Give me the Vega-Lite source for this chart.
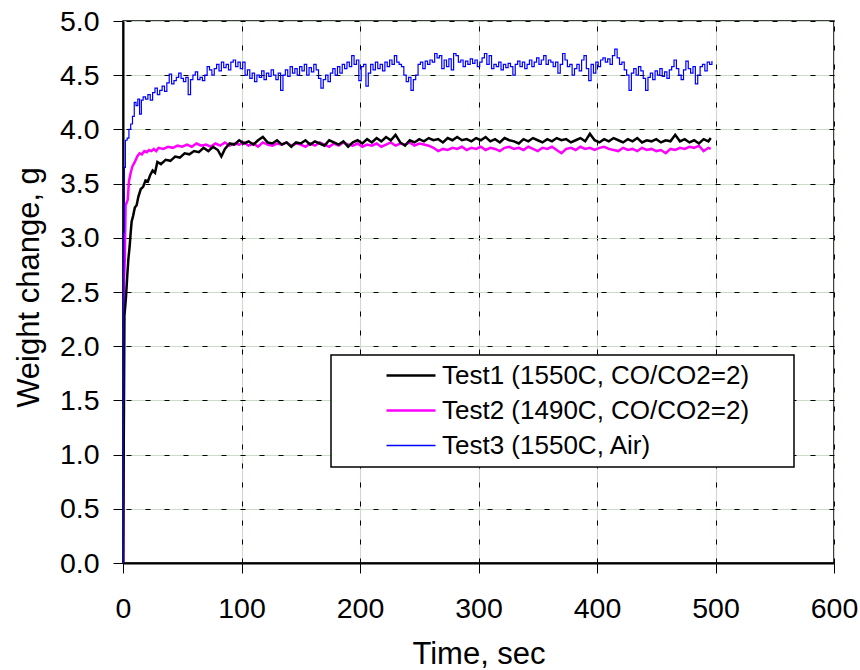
{
"$schema": "https://vega.github.io/schema/vega-lite/v6.json",
"width": 711, "height": 542,
"autosize": {"type": "none"},
"padding": {"left": 123, "top": 21, "right": 26, "bottom": 107},
"background": "white",
"config": {"view": {"stroke": "#000", "strokeWidth": 1.5}, "font": "Liberation Sans"},
"datasets": {
"test1": [
{"t":0,"w":0},{"t":0.8,"w":1.43},{"t":1.2,"w":2.28},{"t":2.5,"w":2.45},{"t":3.7,"w":2.67},{"t":4.5,"w":2.8},{"t":5.6,"w":2.92},{"t":6.5,"w":3.05},{"t":7.3,"w":3.15},{"t":8.5,"w":3.2},{"t":10,"w":3.28},{"t":11.5,"w":3.3},{"t":13,"w":3.38},{"t":15,"w":3.45},{"t":17,"w":3.47},{"t":19,"w":3.53},{"t":21,"w":3.52},{"t":23,"w":3.58},{"t":25,"w":3.62},{"t":27,"w":3.6},{"t":29,"w":3.7},{"t":32,"w":3.68},{"t":36,"w":3.72},{"t":40,"w":3.71},{"t":44,"w":3.75},{"t":48,"w":3.74},{"t":52,"w":3.78},{"t":56,"w":3.77},{"t":60,"w":3.8},{"t":64,"w":3.79},{"t":68,"w":3.83},{"t":72,"w":3.8},{"t":76,"w":3.84},{"t":80,"w":3.81},{"t":83,"w":3.75},{"t":86,"w":3.82},{"t":90,"w":3.87},{"t":94,"w":3.86},{"t":98,"w":3.9},{"t":102,"w":3.87},{"t":106,"w":3.89},{"t":110,"w":3.86},{"t":114,"w":3.9},{"t":118,"w":3.93},{"t":122,"w":3.88},{"t":126,"w":3.87},{"t":130,"w":3.9},{"t":134,"w":3.86},{"t":138,"w":3.88},{"t":142,"w":3.84},{"t":146,"w":3.88},{"t":150,"w":3.87},{"t":154,"w":3.9},{"t":158,"w":3.86},{"t":162,"w":3.89},{"t":166,"w":3.87},{"t":170,"w":3.85},{"t":174,"w":3.9},{"t":178,"w":3.88},{"t":182,"w":3.86},{"t":186,"w":3.89},{"t":190,"w":3.84},{"t":194,"w":3.88},{"t":198,"w":3.9},{"t":202,"w":3.87},{"t":206,"w":3.91},{"t":210,"w":3.88},{"t":214,"w":3.92},{"t":218,"w":3.89},{"t":222,"w":3.93},{"t":226,"w":3.9},{"t":230,"w":3.95},{"t":234,"w":3.88},{"t":238,"w":3.85},{"t":242,"w":3.9},{"t":246,"w":3.88},{"t":250,"w":3.91},{"t":254,"w":3.89},{"t":258,"w":3.92},{"t":262,"w":3.9},{"t":266,"w":3.91},{"t":270,"w":3.88},{"t":274,"w":3.92},{"t":278,"w":3.9},{"t":282,"w":3.93},{"t":286,"w":3.9},{"t":290,"w":3.91},{"t":294,"w":3.89},{"t":298,"w":3.92},{"t":302,"w":3.9},{"t":306,"w":3.93},{"t":310,"w":3.89},{"t":314,"w":3.91},{"t":318,"w":3.88},{"t":322,"w":3.92},{"t":326,"w":3.9},{"t":330,"w":3.89},{"t":334,"w":3.87},{"t":338,"w":3.91},{"t":342,"w":3.89},{"t":346,"w":3.92},{"t":350,"w":3.9},{"t":354,"w":3.88},{"t":358,"w":3.91},{"t":362,"w":3.89},{"t":366,"w":3.92},{"t":370,"w":3.9},{"t":374,"w":3.91},{"t":378,"w":3.88},{"t":382,"w":3.9},{"t":386,"w":3.92},{"t":390,"w":3.89},{"t":394,"w":3.96},{"t":398,"w":3.9},{"t":402,"w":3.88},{"t":406,"w":3.91},{"t":410,"w":3.89},{"t":414,"w":3.92},{"t":418,"w":3.9},{"t":422,"w":3.88},{"t":426,"w":3.91},{"t":430,"w":3.89},{"t":434,"w":3.92},{"t":438,"w":3.88},{"t":442,"w":3.9},{"t":446,"w":3.89},{"t":450,"w":3.91},{"t":454,"w":3.88},{"t":458,"w":3.9},{"t":462,"w":3.89},{"t":466,"w":3.95},{"t":470,"w":3.89},{"t":474,"w":3.91},{"t":478,"w":3.88},{"t":482,"w":3.9},{"t":486,"w":3.87},{"t":490,"w":3.91},{"t":494,"w":3.89},{"t":496,"w":3.92}
],
"test2": [
{"t":0,"w":0},{"t":0.4,"w":1.5},{"t":0.8,"w":2.6},{"t":1.5,"w":2.79},{"t":2.2,"w":3.3},{"t":3,"w":3.32},{"t":4,"w":3.35},{"t":5,"w":3.52},{"t":6.5,"w":3.6},{"t":8,"w":3.66},{"t":10,"w":3.7},{"t":12,"w":3.75},{"t":14,"w":3.78},{"t":16,"w":3.77},{"t":18,"w":3.8},{"t":20,"w":3.79},{"t":22,"w":3.81},{"t":24,"w":3.8},{"t":26,"w":3.82},{"t":28,"w":3.8},{"t":30,"w":3.83},{"t":34,"w":3.82},{"t":38,"w":3.84},{"t":42,"w":3.83},{"t":46,"w":3.85},{"t":50,"w":3.84},{"t":54,"w":3.86},{"t":58,"w":3.84},{"t":62,"w":3.87},{"t":66,"w":3.85},{"t":70,"w":3.86},{"t":74,"w":3.84},{"t":78,"w":3.87},{"t":82,"w":3.85},{"t":86,"w":3.88},{"t":90,"w":3.85},{"t":94,"w":3.87},{"t":98,"w":3.86},{"t":102,"w":3.88},{"t":106,"w":3.85},{"t":110,"w":3.87},{"t":114,"w":3.84},{"t":118,"w":3.88},{"t":122,"w":3.86},{"t":126,"w":3.85},{"t":130,"w":3.87},{"t":134,"w":3.86},{"t":138,"w":3.88},{"t":142,"w":3.85},{"t":146,"w":3.87},{"t":150,"w":3.86},{"t":154,"w":3.84},{"t":158,"w":3.87},{"t":162,"w":3.85},{"t":166,"w":3.88},{"t":170,"w":3.86},{"t":174,"w":3.84},{"t":178,"w":3.87},{"t":182,"w":3.85},{"t":186,"w":3.88},{"t":190,"w":3.86},{"t":194,"w":3.85},{"t":198,"w":3.87},{"t":202,"w":3.84},{"t":206,"w":3.86},{"t":210,"w":3.85},{"t":214,"w":3.87},{"t":218,"w":3.84},{"t":222,"w":3.86},{"t":226,"w":3.88},{"t":230,"w":3.85},{"t":234,"w":3.87},{"t":238,"w":3.86},{"t":242,"w":3.88},{"t":246,"w":3.85},{"t":250,"w":3.87},{"t":254,"w":3.86},{"t":258,"w":3.85},{"t":262,"w":3.83},{"t":266,"w":3.8},{"t":270,"w":3.82},{"t":274,"w":3.81},{"t":278,"w":3.83},{"t":282,"w":3.82},{"t":286,"w":3.84},{"t":290,"w":3.81},{"t":294,"w":3.83},{"t":298,"w":3.82},{"t":302,"w":3.84},{"t":306,"w":3.81},{"t":310,"w":3.83},{"t":314,"w":3.82},{"t":318,"w":3.8},{"t":322,"w":3.83},{"t":326,"w":3.84},{"t":330,"w":3.82},{"t":334,"w":3.83},{"t":338,"w":3.81},{"t":342,"w":3.84},{"t":346,"w":3.82},{"t":350,"w":3.8},{"t":354,"w":3.83},{"t":358,"w":3.82},{"t":362,"w":3.84},{"t":366,"w":3.81},{"t":370,"w":3.78},{"t":374,"w":3.82},{"t":378,"w":3.83},{"t":382,"w":3.81},{"t":386,"w":3.84},{"t":390,"w":3.82},{"t":394,"w":3.83},{"t":398,"w":3.81},{"t":402,"w":3.83},{"t":406,"w":3.84},{"t":410,"w":3.82},{"t":414,"w":3.81},{"t":418,"w":3.8},{"t":422,"w":3.83},{"t":426,"w":3.81},{"t":430,"w":3.82},{"t":434,"w":3.8},{"t":438,"w":3.83},{"t":442,"w":3.81},{"t":446,"w":3.82},{"t":450,"w":3.8},{"t":454,"w":3.81},{"t":458,"w":3.78},{"t":462,"w":3.82},{"t":466,"w":3.81},{"t":470,"w":3.83},{"t":474,"w":3.82},{"t":478,"w":3.84},{"t":482,"w":3.83},{"t":486,"w":3.85},{"t":490,"w":3.8},{"t":494,"w":3.83},{"t":496,"w":3.82}
],
"test3": [
{"t":0,"w":0},{"t":0.3,"w":1.5},{"t":0.7,"w":3.05},{"t":1.2,"w":3.65},{"t":2,"w":3.9},{"t":3.5,"w":3.92},{"t":5,"w":4.0},{"t":6.5,"w":4.05},{"t":8,"w":4.12},{"t":9.5,"w":4.25},{"t":11,"w":4.22},{"t":12.5,"w":4.28},{"t":14,"w":4.14},{"t":15.5,"w":4.27},{"t":17,"w":4.3},{"t":19,"w":4.28},{"t":21,"w":4.32},{"t":23,"w":4.27},{"t":25,"w":4.34},{"t":27,"w":4.38},{"t":29,"w":4.32},{"t":31,"w":4.36},{"t":33,"w":4.4},{"t":35,"w":4.35},{"t":37,"w":4.43},{"t":39,"w":4.51},{"t":41,"w":4.42},{"t":43,"w":4.45},{"t":45,"w":4.48},{"t":47,"w":4.52},{"t":49,"w":4.47},{"t":51,"w":4.44},{"t":53,"w":4.48},{"t":55,"w":4.32},{"t":57,"w":4.46},{"t":59,"w":4.5},{"t":61,"w":4.53},{"t":63,"w":4.46},{"t":65,"w":4.48},{"t":67,"w":4.45},{"t":69,"w":4.5},{"t":71,"w":4.58},{"t":73,"w":4.55},{"t":75,"w":4.5},{"t":77,"w":4.56},{"t":79,"w":4.6},{"t":81,"w":4.54},{"t":83,"w":4.62},{"t":85,"w":4.57},{"t":87,"w":4.6},{"t":89,"w":4.55},{"t":91,"w":4.62},{"t":93,"w":4.64},{"t":95,"w":4.58},{"t":97,"w":4.62},{"t":99,"w":4.56},{"t":101,"w":4.62},{"t":103,"w":4.5},{"t":105,"w":4.55},{"t":107,"w":4.47},{"t":109,"w":4.52},{"t":111,"w":4.44},{"t":113,"w":4.5},{"t":115,"w":4.48},{"t":117,"w":4.54},{"t":119,"w":4.46},{"t":121,"w":4.52},{"t":123,"w":4.49},{"t":125,"w":4.55},{"t":127,"w":4.5},{"t":129,"w":4.46},{"t":131,"w":4.52},{"t":133,"w":4.36},{"t":135,"w":4.5},{"t":137,"w":4.55},{"t":139,"w":4.49},{"t":141,"w":4.58},{"t":143,"w":4.52},{"t":145,"w":4.56},{"t":147,"w":4.5},{"t":149,"w":4.58},{"t":151,"w":4.54},{"t":153,"w":4.6},{"t":155,"w":4.5},{"t":157,"w":4.57},{"t":159,"w":4.53},{"t":161,"w":4.6},{"t":163,"w":4.55},{"t":165,"w":4.47},{"t":167,"w":4.38},{"t":169,"w":4.46},{"t":171,"w":4.5},{"t":173,"w":4.44},{"t":175,"w":4.52},{"t":177,"w":4.56},{"t":179,"w":4.5},{"t":181,"w":4.58},{"t":183,"w":4.52},{"t":185,"w":4.6},{"t":187,"w":4.56},{"t":189,"w":4.62},{"t":191,"w":4.58},{"t":193,"w":4.68},{"t":195,"w":4.6},{"t":197,"w":4.64},{"t":199,"w":4.45},{"t":201,"w":4.58},{"t":203,"w":4.6},{"t":205,"w":4.4},{"t":207,"w":4.52},{"t":209,"w":4.6},{"t":211,"w":4.55},{"t":213,"w":4.62},{"t":215,"w":4.56},{"t":217,"w":4.6},{"t":219,"w":4.54},{"t":221,"w":4.62},{"t":223,"w":4.58},{"t":225,"w":4.64},{"t":227,"w":4.6},{"t":229,"w":4.68},{"t":231,"w":4.62},{"t":233,"w":4.6},{"t":235,"w":4.58},{"t":237,"w":4.5},{"t":239,"w":4.44},{"t":241,"w":4.48},{"t":243,"w":4.36},{"t":245,"w":4.46},{"t":247,"w":4.5},{"t":249,"w":4.6},{"t":251,"w":4.62},{"t":253,"w":4.56},{"t":255,"w":4.63},{"t":257,"w":4.6},{"t":259,"w":4.64},{"t":261,"w":4.62},{"t":263,"w":4.7},{"t":265,"w":4.66},{"t":267,"w":4.68},{"t":269,"w":4.56},{"t":271,"w":4.64},{"t":273,"w":4.58},{"t":275,"w":4.65},{"t":277,"w":4.55},{"t":279,"w":4.7},{"t":281,"w":4.68},{"t":283,"w":4.62},{"t":285,"w":4.64},{"t":287,"w":4.58},{"t":289,"w":4.63},{"t":291,"w":4.6},{"t":293,"w":4.65},{"t":295,"w":4.61},{"t":297,"w":4.64},{"t":299,"w":4.58},{"t":301,"w":4.62},{"t":303,"w":4.66},{"t":305,"w":4.7},{"t":307,"w":4.6},{"t":309,"w":4.68},{"t":311,"w":4.56},{"t":313,"w":4.6},{"t":315,"w":4.58},{"t":317,"w":4.62},{"t":319,"w":4.55},{"t":321,"w":4.6},{"t":323,"w":4.57},{"t":325,"w":4.61},{"t":327,"w":4.58},{"t":329,"w":4.5},{"t":331,"w":4.6},{"t":333,"w":4.63},{"t":335,"w":4.58},{"t":337,"w":4.62},{"t":339,"w":4.56},{"t":341,"w":4.6},{"t":343,"w":4.64},{"t":345,"w":4.58},{"t":347,"w":4.62},{"t":349,"w":4.66},{"t":351,"w":4.6},{"t":353,"w":4.64},{"t":355,"w":4.68},{"t":357,"w":4.6},{"t":359,"w":4.64},{"t":361,"w":4.62},{"t":363,"w":4.58},{"t":365,"w":4.62},{"t":367,"w":4.52},{"t":369,"w":4.6},{"t":371,"w":4.7},{"t":373,"w":4.64},{"t":375,"w":4.58},{"t":377,"w":4.6},{"t":379,"w":4.5},{"t":381,"w":4.56},{"t":383,"w":4.6},{"t":385,"w":4.54},{"t":387,"w":4.64},{"t":389,"w":4.68},{"t":391,"w":4.56},{"t":393,"w":4.45},{"t":395,"w":4.6},{"t":397,"w":4.52},{"t":399,"w":4.62},{"t":401,"w":4.58},{"t":403,"w":4.64},{"t":405,"w":4.66},{"t":407,"w":4.62},{"t":409,"w":4.65},{"t":411,"w":4.6},{"t":413,"w":4.68},{"t":415,"w":4.74},{"t":417,"w":4.66},{"t":419,"w":4.6},{"t":421,"w":4.62},{"t":423,"w":4.55},{"t":425,"w":4.5},{"t":427,"w":4.36},{"t":429,"w":4.52},{"t":431,"w":4.56},{"t":433,"w":4.5},{"t":435,"w":4.58},{"t":437,"w":4.54},{"t":439,"w":4.47},{"t":441,"w":4.36},{"t":443,"w":4.48},{"t":445,"w":4.52},{"t":447,"w":4.46},{"t":449,"w":4.54},{"t":451,"w":4.5},{"t":453,"w":4.56},{"t":455,"w":4.49},{"t":457,"w":4.53},{"t":459,"w":4.47},{"t":461,"w":4.55},{"t":463,"w":4.58},{"t":465,"w":4.64},{"t":467,"w":4.56},{"t":469,"w":4.5},{"t":471,"w":4.46},{"t":473,"w":4.55},{"t":475,"w":4.63},{"t":477,"w":4.56},{"t":479,"w":4.52},{"t":481,"w":4.58},{"t":483,"w":4.42},{"t":485,"w":4.5},{"t":487,"w":4.58},{"t":489,"w":4.6},{"t":491,"w":4.54},{"t":493,"w":4.62},{"t":495,"w":4.6},{"t":497,"w":4.63}
]
},
"layer": [
{
"data": {"name": "test2"},
"mark": {"type": "line", "strokeWidth": 2.5, "clip": true},
"encoding": {
"x": {"field": "t", "type": "quantitative", "scale": {"domain": [0, 600], "nice": false},
"axis": {"orient": "bottom", "values": [0,100,200,300,400,500,600], "grid": true, "gridColor": "#c8dcc8", "gridWidth": 1, "domainColor": "#000000", "domainWidth": 2, "tickColor": "#000000", "tickSize": 10, "tickWidth": 1, "labelFont": "Liberation Sans", "labelFontSize": 28.5, "labelColor": "#000000", "labelPadding": 21, "labelFlush": false, "labelOverlap": false, "title": "Time, sec", "titleFont": "Liberation Sans", "titleFontSize": 31, "titleFontWeight": "normal", "titleColor": "#000000", "titleBaseline": "alphabetic", "titleY": 100}},
"y": {"field": "w", "type": "quantitative", "scale": {"domain": [0, 5], "nice": false},
"axis": {"orient": "left", "values": [0,0.5,1,1.5,2,2.5,3,3.5,4,4.5,5], "format": ".1f", "grid": true, "gridColor": "#c8dcc8", "gridWidth": 1, "domainColor": "#000000", "domainWidth": 2, "tickColor": "#000000", "tickSize": 10, "tickWidth": 1, "labelFont": "Liberation Sans", "labelFontSize": 28.5, "labelColor": "#000000", "labelPadding": 14, "labelFlush": false, "labelOverlap": false, "title": "Weight change, g", "titleFont": "Liberation Sans", "titleFontSize": 31, "titleFontWeight": "normal", "titleColor": "#000000", "titleAngle": 270, "titleAlign": "center", "titleBaseline": "alphabetic", "titleX": -85, "titleY": 266}},
"color": {"datum": "Test2 (1490C, CO/CO2=2)", "type": "nominal"}
}
},
{
"data": {"name": "test1"},
"mark": {"type": "line", "strokeWidth": 2.5, "clip": true},
"encoding": {
"x": {"field": "t", "type": "quantitative", "scale": {"domain": [0, 600], "nice": false}, "axis": null},
"y": {"field": "w", "type": "quantitative", "scale": {"domain": [0, 5], "nice": false}, "axis": null},
"color": {"datum": "Test1 (1550C, CO/CO2=2)", "type": "nominal",
"scale": {"domain": ["Test1 (1550C, CO/CO2=2)", "Test2 (1490C, CO/CO2=2)", "Test3 (1550C, Air)"], "range": ["#000000", "#ff00ff", "#0000ff"]},
"legend": {"orient": "none", "legendX": 208, "legendY": 334, "title": null, "symbolType": "stroke", "symbolSize": 2400, "symbolStrokeWidth": 2, "clipHeight": 25, "rowPadding": 8, "padding": 8, "symbolOffset": 59, "labelOffset": 18, "labelFont": "Liberation Sans", "labelFontSize": 26, "labelColor": "#000000", "labelLimit": 700, "strokeColor": "#000000", "fillColor": "#ffffff",
"encode": {"legend": {"update": {"strokeWidth": {"value": 1.5}}}, "entries": {"update": {"width": {"value": 447}}}, "symbols": {"update": {"stroke": {"signal": "datum.value === 'Test3 (1550C, Air)' ? '#0000ff' : (datum.value === 'Test2 (1490C, CO/CO2=2)' ? '#ff00ff' : '#000000')"}, "strokeWidth": {"signal": "datum.value === 'Test3 (1550C, Air)' ? 1.5 : 2.5"}}}}}
}
}
},
{
"data": {"name": "test3"},
"mark": {"type": "line", "strokeWidth": 1.2, "interpolate": "step-after", "clip": true},
"encoding": {
"x": {"field": "t", "type": "quantitative", "scale": {"domain": [0, 600], "nice": false},
"axis": {"orient": "top", "values": [0,100,200,300,400,500,600], "grid": true, "gridColor": "#000000", "gridDash": [5, 14], "gridWidth": 1, "labels": false, "ticks": false, "domain": false, "title": null}},
"y": {"field": "w", "type": "quantitative", "scale": {"domain": [0, 5], "nice": false},
"axis": {"orient": "right", "values": [0,0.5,1,1.5,2,2.5,3,3.5,4,4.5,5], "grid": true, "gridColor": "#000000", "gridDash": [5, 14], "gridWidth": 1, "labels": false, "ticks": false, "domain": false, "title": null}},
"color": {"datum": "Test3 (1550C, Air)", "type": "nominal"}
}
}
],
"resolve": {"axis": {"x": "independent", "y": "independent"}}
}
